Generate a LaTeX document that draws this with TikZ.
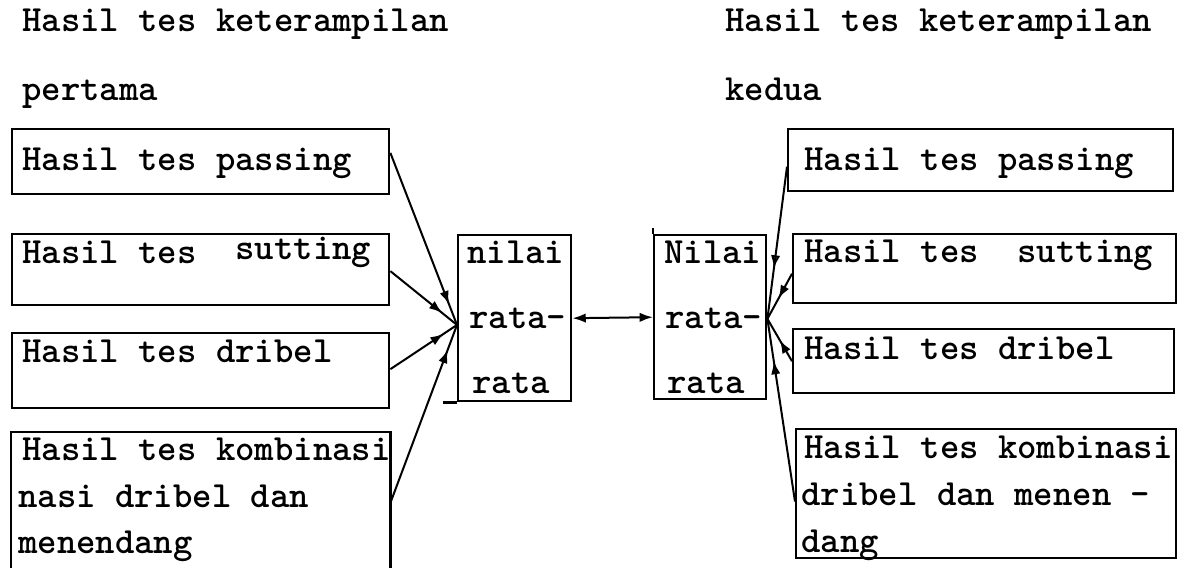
\documentclass[tikz,border=0pt]{standalone}
\usetikzlibrary{calc,arrows.meta,decorations.markings}

\tikzset{
  pbox/.style 2 args={draw, line width=1.8pt, rectangle, anchor=north west,
    inner sep=0pt, minimum width=#1*0.75pt, minimum height=#2*0.75pt},
  openbox/.style 2 args={rectangle, anchor=north west,
    inner sep=0pt, minimum width=#1*0.75pt, minimum height=#2*0.75pt},
  txt/.style={anchor=base west, inner sep=0pt,
    font=\ttfamily\bfseries\fontsize{27.7pt}{27.7pt}\selectfont},
  link/.style={line width=1.5pt},
  tipat/.style={link, postaction={decorate},
    decoration={markings, mark=at position #1 with
      {\arrow{Latex[length=10pt,width=7pt]}}}},
  opentipat/.style={link, postaction={decorate},
    decoration={markings, mark=at position #1 with
      {\arrow{Latex[open,length=10pt,width=7pt]}}}},
}

\begin{document}
\begin{tikzpicture}[x=0.75pt,y=-0.75pt]
\useasboundingbox (0,0) rectangle (1187,567);
\fill[white] (0,0) rectangle (1187,567);

% headings
\node[txt] (hl1) at (22,32) {Hasil tes keterampilan};
\node[txt] (hl2) at (22,100) {pertama};
\node[txt] (hr1) at (725,32) {Hasil tes keterampilan};
\node[txt] (hr2) at (725,100) {kedua};

% first test: component boxes
\node[pbox={377}{65}] (b1) at (11,128) {};
\node[pbox={377}{71}] (b2) at (11,233) {};
\node[pbox={377}{75}] (b3) at (11,332) {};
\node[openbox={379}{135}] (b4) at (11,432) {};
\draw[line width=1.8pt] (b4.south west) -- (b4.north west) -- (b4.north east) -- (b4.south east);

\node[txt] (tb1) at (22,170) {Hasil tes passing};
\node[txt] (tb2) at (22,263) {Hasil tes\ \ \raisebox{3pt}{sutting}};
\node[txt] (tb3) at (22,362) {Hasil tes dribel};
\node[txt] (tb4a) at (22,460) {Hasil tes kombinasi};
\node[txt] (tb4b) at (18,507) {nasi dribel dan};
\node[txt] (tb4c) at (18,553) {menendang};

% second test: component boxes
\node[pbox={385}{62}] (r1) at (787,128) {};
\node[pbox={383}{69}] (r2) at (792,233) {};
\node[pbox={381}{64}] (r3) at (792,328) {};
\node[pbox={380}{129}] (r4) at (795,428) {};

\node[txt] (tr1) at (804,170) {Hasil tes passing};
\node[txt] (tr2) at (804,262) {Hasil tes\ \ sutting};
\node[txt] (tr3) at (804,359) {Hasil tes dribel};
\node[txt] (tr4a) at (804,458) {Hasil tes kombinasi};
\node[txt] (tr4b) at (801,505) {dribel dan menen -};
\node[txt] (tr4c) at (801,552) {dang};

% average boxes
\node[pbox={113}{166}] (m1) at (457,234) {};
\draw[line width=1.8pt] (m1.south west) -- ++(-14,0);
\node[txt] (tm1a) at (467,263) {nilai};
\node[txt] (tm1b) at (469,328) {rata-};
\node[txt] (tm1c) at (472,393) {rata};

\node[pbox={112}{164}] (m2) at (653,234) {};
\draw[line width=1.8pt] (m2.north west) -- ++(0,-6);
\node[txt] (tm2a) at (664,263) {Nilai};
\node[txt] (tm2b) at (665,328) {rata-};
\node[txt] (tm2c) at (667,393) {rata};

% meeting points on the average boxes
\coordinate (c1) at ($(m1.north west)!0.54!(m1.south west)$);
\coordinate (c2) at ($(m2.north east)!0.51!(m2.south east)$);

% first test components into their average
\draw[tipat=0.88] ($(b1.north east)!0.37!(b1.south east)$) -- (c1);
\draw[tipat=0.78] ($(b2.north east)!0.52!(b2.south east)$) -- (c1);
\draw[tipat=0.80] ($(b3.north east)!0.48!(b3.south east)$) -- (c1);
\draw[tipat=0.86] ($(b4.north east)!0.52!(b4.south east)$) -- (c1);

% second test components into their average
\draw[opentipat=0.67] ($(r1.north west)!0.6!(r1.south west)$) -- (c2);
\draw[tipat=0.55] ($(r2.north west)!0.57!(r2.south west)$) -- (c2);
\draw[tipat=0.50] ($(r3.north west)!0.5!(r3.south west)$) -- (c2);
\draw[tipat=0.77] ($(r4.north west)!0.56!(r4.south west)$) -- (c2);

% comparison of the two averages
\draw[link, {Latex[length=10pt,width=7pt]}-{Latex[length=10pt,width=7pt]}] (m1.east) -- (m2.west);
\end{tikzpicture}
\end{document}
